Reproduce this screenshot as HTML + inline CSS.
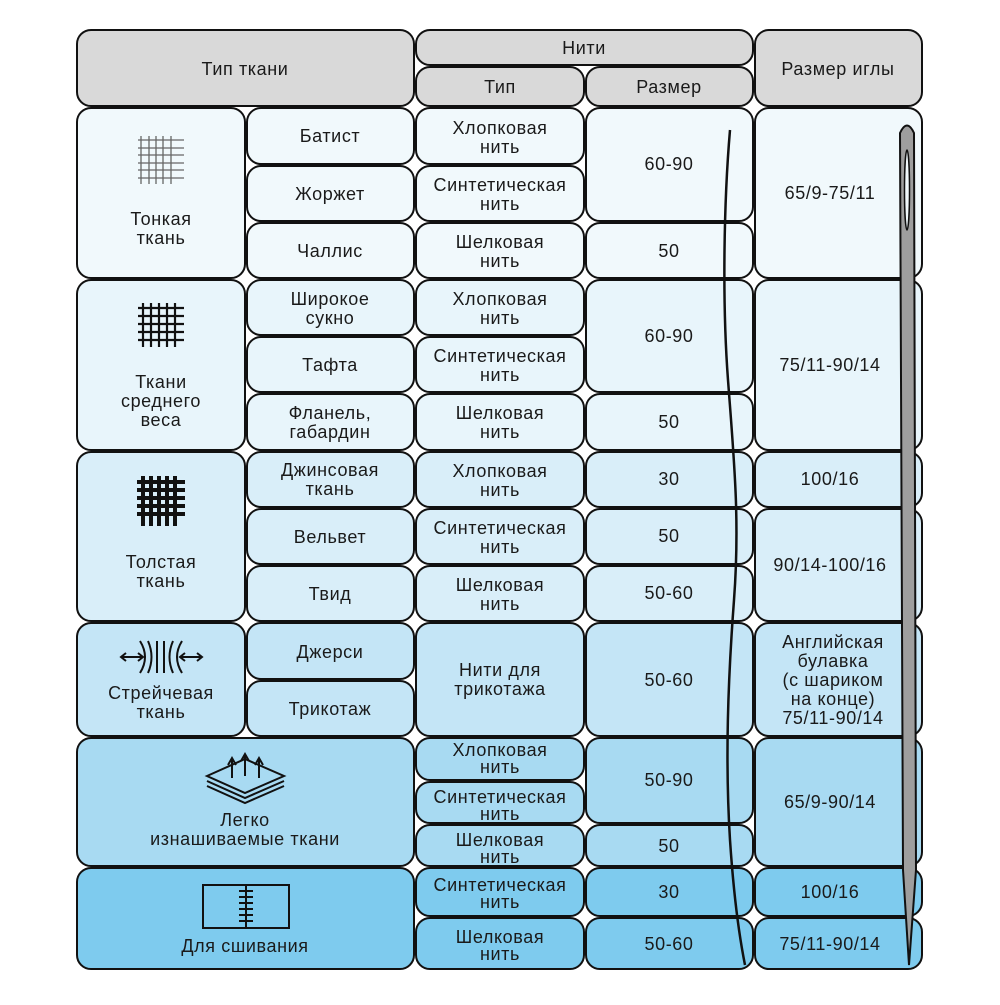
<!DOCTYPE html>
<html><head><meta charset="utf-8"><style>
html,body{margin:0;padding:0;background:#fff;}
svg text{font-family:"Liberation Sans",sans-serif;font-size:18px;fill:#1a1a1a;text-anchor:middle;letter-spacing:0.6px;}
</style></head><body>
<svg width="1000" height="1000" viewBox="0 0 1000 1000" xmlns="http://www.w3.org/2000/svg">
<g stroke="#111" stroke-width="2">
<!-- header -->
<g fill="#d9d9d9">
<rect x="77" y="30" width="337" height="76" rx="14"/>
<rect x="416" y="30" width="337" height="35" rx="14"/>
<rect x="416" y="67" width="168" height="39" rx="14"/>
<rect x="586" y="67" width="167" height="39" rx="14"/>
<rect x="755" y="30" width="167" height="76" rx="14"/>
</g>
<!-- group 1 -->
<g fill="#f1f9fc">
<rect x="77" y="108" width="168" height="170" rx="14"/>
<rect x="247" y="108" width="167" height="56" rx="14"/>
<rect x="247" y="166" width="167" height="55" rx="14"/>
<rect x="247" y="223" width="167" height="55" rx="14"/>
<rect x="416" y="108" width="168" height="56" rx="14"/>
<rect x="416" y="166" width="168" height="55" rx="14"/>
<rect x="416" y="223" width="168" height="55" rx="14"/>
<rect x="586" y="108" width="167" height="113" rx="14"/>
<rect x="586" y="223" width="167" height="55" rx="14"/>
<rect x="755" y="108" width="167" height="170" rx="14"/>
</g>
<!-- group 2 -->
<g fill="#e8f5fb">
<rect x="77" y="280" width="168" height="170" rx="14"/>
<rect x="247" y="280" width="167" height="55" rx="14"/>
<rect x="247" y="337" width="167" height="55" rx="14"/>
<rect x="247" y="394" width="167" height="56" rx="14"/>
<rect x="416" y="280" width="168" height="55" rx="14"/>
<rect x="416" y="337" width="168" height="55" rx="14"/>
<rect x="416" y="394" width="168" height="56" rx="14"/>
<rect x="586" y="280" width="167" height="112" rx="14"/>
<rect x="586" y="394" width="167" height="56" rx="14"/>
<rect x="755" y="280" width="167" height="170" rx="14"/>
</g>
<!-- group 3 -->
<g fill="#d9eef9">
<rect x="77" y="452" width="168" height="169" rx="14"/>
<rect x="247" y="452" width="167" height="55" rx="14"/>
<rect x="247" y="509" width="167" height="55" rx="14"/>
<rect x="247" y="566" width="167" height="55" rx="14"/>
<rect x="416" y="452" width="168" height="55" rx="14"/>
<rect x="416" y="509" width="168" height="55" rx="14"/>
<rect x="416" y="566" width="168" height="55" rx="14"/>
<rect x="586" y="452" width="167" height="55" rx="14"/>
<rect x="586" y="509" width="167" height="55" rx="14"/>
<rect x="586" y="566" width="167" height="55" rx="14"/>
<rect x="755" y="452" width="167" height="55" rx="14"/>
<rect x="755" y="509" width="167" height="112" rx="14"/>
</g>
<!-- group 4 -->
<g fill="#c4e5f6">
<rect x="77" y="623" width="168" height="113" rx="14"/>
<rect x="247" y="623" width="167" height="56" rx="14"/>
<rect x="247" y="681" width="167" height="55" rx="14"/>
<rect x="416" y="623" width="168" height="113" rx="14"/>
<rect x="586" y="623" width="167" height="113" rx="14"/>
<rect x="755" y="623" width="167" height="113" rx="14"/>
</g>
<!-- group 5 -->
<g fill="#a8daf2">
<rect x="77" y="738" width="337" height="128" rx="14"/>
<rect x="416" y="738" width="168" height="42" rx="14"/>
<rect x="416" y="782" width="168" height="41" rx="14"/>
<rect x="416" y="825" width="168" height="41" rx="14"/>
<rect x="586" y="738" width="167" height="85" rx="14"/>
<rect x="586" y="825" width="167" height="41" rx="14"/>
<rect x="755" y="738" width="167" height="128" rx="14"/>
</g>
<!-- group 6 -->
<g fill="#7ecbee">
<rect x="77" y="868" width="337" height="101" rx="14"/>
<rect x="416" y="868" width="168" height="48" rx="14"/>
<rect x="416" y="918" width="168" height="51" rx="14"/>
<rect x="586" y="868" width="167" height="48" rx="14"/>
<rect x="586" y="918" width="167" height="51" rx="14"/>
<rect x="755" y="868" width="167" height="48" rx="14"/>
<rect x="755" y="918" width="167" height="51" rx="14"/>
</g>
</g>

<!-- icons -->
<g stroke="#666" stroke-width="1.3">
<line x1="141" y1="136" x2="141" y2="184"/><line x1="149" y1="136" x2="149" y2="184"/><line x1="156" y1="136" x2="156" y2="184"/><line x1="163" y1="136" x2="163" y2="184"/><line x1="171" y1="136" x2="171" y2="184"/>
<line x1="138" y1="140" x2="184" y2="140"/><line x1="138" y1="148" x2="184" y2="148"/><line x1="138" y1="155" x2="184" y2="155"/><line x1="138" y1="163" x2="184" y2="163"/><line x1="138" y1="170" x2="184" y2="170"/><line x1="138" y1="178" x2="184" y2="178"/>
</g>
<g stroke="#111" stroke-width="2.2">
<line x1="143" y1="303" x2="143" y2="347"/><line x1="151" y1="303" x2="151" y2="347"/><line x1="159" y1="303" x2="159" y2="347"/><line x1="167" y1="303" x2="167" y2="347"/><line x1="175" y1="303" x2="175" y2="347"/>
<line x1="138" y1="308" x2="184" y2="308"/><line x1="138" y1="316" x2="184" y2="316"/><line x1="138" y1="324" x2="184" y2="324"/><line x1="138" y1="332" x2="184" y2="332"/><line x1="138" y1="340" x2="184" y2="340"/>
</g>
<g stroke="#111" stroke-width="4">
<line x1="143" y1="476" x2="143" y2="526"/><line x1="151" y1="476" x2="151" y2="526"/><line x1="159" y1="476" x2="159" y2="526"/><line x1="167" y1="476" x2="167" y2="526"/><line x1="175" y1="476" x2="175" y2="526"/>
<line x1="137" y1="482" x2="185" y2="482"/><line x1="137" y1="490" x2="185" y2="490"/><line x1="137" y1="498" x2="185" y2="498"/><line x1="137" y1="506" x2="185" y2="506"/><line x1="137" y1="514" x2="185" y2="514"/>
</g>
<!-- stretch icon -->
<g stroke="#111" stroke-width="2" fill="none">
<line x1="122" y1="657" x2="142" y2="657"/><path d="M126 653 L121 657 L126 661 M138 653 L143 657 L138 661"/>
<line x1="181" y1="657" x2="201" y2="657"/><path d="M185 653 L180 657 L185 661 M197 653 L202 657 L197 661"/>
<path d="M140 641 Q150 657 140 673"/><path d="M148 641 Q155 657 148 673"/>
<line x1="157" y1="641" x2="157" y2="673"/><line x1="164" y1="641" x2="164" y2="673"/>
<path d="M173 641 Q166 657 173 673"/><path d="M182 641 Q172 657 182 673"/>
</g>
<!-- layers icon -->
<g stroke="#111" stroke-width="2" fill="none">
<path d="M207 776 L245 759 L284 776 L245 793 Z"/>
<path d="M207 781 L245 798 L284 781"/>
<path d="M207 786 L245 803 L284 786"/>
<line x1="232" y1="778" x2="232" y2="760"/><path d="M228 765 L232 758 L236 765"/>
<line x1="245" y1="776" x2="245" y2="755"/><path d="M241 761 L245 754 L249 761"/>
<line x1="259" y1="778" x2="259" y2="760"/><path d="M255 765 L259 758 L263 765"/>
</g>
<!-- sewing icon -->
<g stroke="#111" stroke-width="2" fill="none">
<rect x="203" y="885" width="86" height="43"/>
<line x1="246" y1="885" x2="246" y2="928"/>
<line x1="239" y1="891" x2="253" y2="891"/><line x1="239" y1="897" x2="253" y2="897"/><line x1="239" y1="903" x2="253" y2="903"/><line x1="239" y1="909" x2="253" y2="909"/><line x1="239" y1="915" x2="253" y2="915"/><line x1="239" y1="921" x2="253" y2="921"/>
</g>

<!-- header text -->
<text x="245" y="75">Тип ткани</text>
<text x="584" y="54">Нити</text>
<text x="500" y="93">Тип</text>
<text x="669" y="93">Размер</text>
<text x="838" y="75">Размер иглы</text>

<!-- col1 -->
<text x="161" y="225">Тонкая</text><text x="161" y="244">ткань</text>
<text x="161" y="388">Ткани</text><text x="161" y="407">среднего</text><text x="161" y="426">веса</text>
<text x="161" y="568">Толстая</text><text x="161" y="587">ткань</text>
<text x="161" y="699">Стрейчевая</text><text x="161" y="718">ткань</text>
<text x="245" y="826">Легко</text><text x="245" y="845">изнашиваемые ткани</text>
<text x="245" y="952">Для сшивания</text>

<!-- col2 -->
<text x="330" y="142">Батист</text>
<text x="330" y="200">Жоржет</text>
<text x="330" y="257">Чаллис</text>
<text x="330" y="305">Широкое</text><text x="330" y="324">сукно</text>
<text x="330" y="371">Тафта</text>
<text x="330" y="419">Фланель,</text><text x="330" y="438">габардин</text>
<text x="330" y="476">Джинсовая</text><text x="330" y="495">ткань</text>
<text x="330" y="543">Вельвет</text>
<text x="330" y="600">Твид</text>
<text x="330" y="658">Джерси</text>
<text x="330" y="715">Трикотаж</text>

<!-- col3 -->
<text x="500" y="134">Хлопковая</text><text x="500" y="153">нить</text>
<text x="500" y="191">Синтетическая</text><text x="500" y="210">нить</text>
<text x="500" y="248">Шелковая</text><text x="500" y="267">нить</text>
<text x="500" y="305">Хлопковая</text><text x="500" y="324">нить</text>
<text x="500" y="362">Синтетическая</text><text x="500" y="381">нить</text>
<text x="500" y="419">Шелковая</text><text x="500" y="438">нить</text>
<text x="500" y="477">Хлопковая</text><text x="500" y="496">нить</text>
<text x="500" y="534">Синтетическая</text><text x="500" y="553">нить</text>
<text x="500" y="591">Шелковая</text><text x="500" y="610">нить</text>
<text x="500" y="676">Нити для</text><text x="500" y="695">трикотажа</text>
<text x="500" y="756">Хлопковая</text><text x="500" y="773">нить</text>
<text x="500" y="803">Синтетическая</text><text x="500" y="820">нить</text>
<text x="500" y="846">Шелковая</text><text x="500" y="863">нить</text>
<text x="500" y="891">Синтетическая</text><text x="500" y="908">нить</text>
<text x="500" y="943">Шелковая</text><text x="500" y="960">нить</text>

<!-- col4 -->
<text x="669" y="170">60-90</text>
<text x="669" y="257">50</text>
<text x="669" y="342">60-90</text>
<text x="669" y="428">50</text>
<text x="669" y="485">30</text>
<text x="669" y="542">50</text>
<text x="669" y="599">50-60</text>
<text x="669" y="686">50-60</text>
<text x="669" y="786">50-90</text>
<text x="669" y="852">50</text>
<text x="669" y="898">30</text>
<text x="669" y="950">50-60</text>

<!-- col5 -->
<text x="830" y="199">65/9-75/11</text>
<text x="830" y="371">75/11-90/14</text>
<text x="830" y="485">100/16</text>
<text x="830" y="571">90/14-100/16</text>
<text x="833" y="648">Английская</text><text x="833" y="667">булавка</text><text x="833" y="686">(с шариком</text><text x="833" y="705">на конце)</text><text x="833" y="724">75/11-90/14</text>
<text x="830" y="808">65/9-90/14</text>
<text x="830" y="898">100/16</text>
<text x="830" y="950">75/11-90/14</text>

<!-- thread -->
<path d="M730 130 C724 200 722 300 728 380 C734 460 740 520 734 600 C728 680 725 760 730 840 C734 900 740 940 745 965" stroke="#111" stroke-width="2.5" fill="none"/>
<!-- needle -->
<path d="M900 133 Q907 118 914 133 L916 870 L909 965 L903 870 Z" fill="#9e9e9e" stroke="#111" stroke-width="2"/>
<ellipse cx="907" cy="190" rx="2.5" ry="40" fill="#f1f9fc" stroke="#111" stroke-width="1.5"/>
</svg>
</body></html>
